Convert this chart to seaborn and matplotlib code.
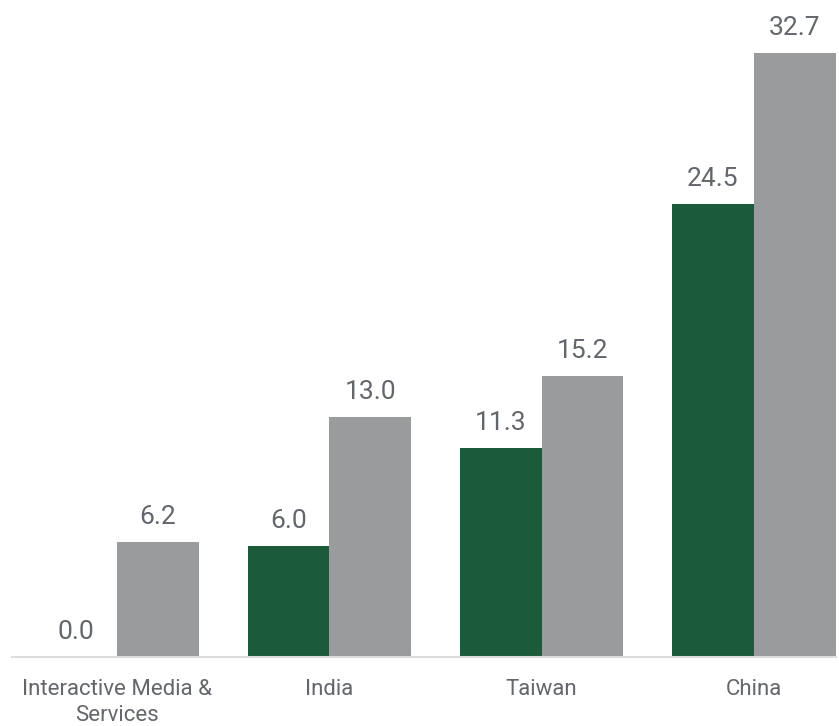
import matplotlib
matplotlib.use("Agg")
import matplotlib.pyplot as plt
import seaborn as sns
import pandas as pd

categories = ["Interactive Media &\nServices", "India", "Taiwan", "China"]
series_names = ["Series A", "Series B"]
series_a = [0.0, 6.0, 11.3, 24.5]
series_b = [6.2, 13.0, 15.2, 32.7]
colors = ["#1c5a3c", "#9a9b9d"]

df = pd.DataFrame({
    "category": categories * 2,
    "series": [series_names[0]] * 4 + [series_names[1]] * 4,
    "value": series_a + series_b,
})

sns.set_theme(style="white")
plt.rcParams["font.family"] = ["Roboto", "DejaVu Sans"]

fig = plt.figure(figsize=(8.39, 7.26), dpi=100)
ax = fig.add_axes([12 / 839, 1 - 657 / 726, 824 / 839, 657 / 726])

sns.barplot(data=df, x="category", y="value", hue="series", order=categories,
            hue_order=series_names, palette=colors, width=0.77, saturation=1,
            linewidth=0, legend=False, ax=ax)

for cont in ax.containers:
    ax.bar_label(cont, fmt="%.1f", padding=9.5, fontsize=19, color="#63666b")

ax.set_ylim(0, 35.57)
ax.set_xlim(-0.495, 3.387)
ax.set_xlabel("")
ax.set_ylabel("")
ax.set_yticks([])
for s in ["top", "right", "left"]:
    ax.spines[s].set_visible(False)
ax.spines["bottom"].set_color("#dcdcdc")
ax.spines["bottom"].set_linewidth(1.5)
ax.tick_params(axis="x", length=0, pad=16, labelsize=16, labelcolor="#63666b")
for t in ax.get_xticklabels():
    t.set_linespacing(1.3)

fig.savefig("out.png", dpi=100)
